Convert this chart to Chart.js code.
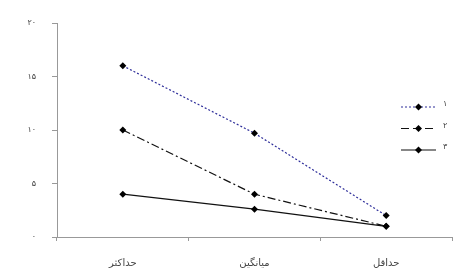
<!DOCTYPE html>
<html><head><meta charset="utf-8">
<script src="https://cdn.jsdelivr.net/npm/chart.js@4/dist/chart.umd.min.js"></script>
<style>html,body{margin:0;padding:0;background:#fff}#w{width:456px;height:276px}</style>
</head><body><div id="w"><canvas id="c"></canvas></div>
<script>
const categories = ['حداکثر', 'میانگین', 'حداقل'];
const seriesNames = ['۱', '۲', '۳'];
const series1 = [16, 9.7, 2.0];
const series2 = [10, 4.0, 1.0];
const series3 = [4.0, 2.6, 1.0];
const yTicks = [0, 5, 10, 15, 20];

const fa = n => String(n).replace(/\d/g, d => '۰۱۲۳۴۵۶۷۸۹'[d]);
const FONT = '"DejaVu Sans", sans-serif';

const styles = [
  {borderColor: '#2e2e9a', borderDash: [2, 2]},
  {borderColor: '#111', borderDash: [8, 3, 2, 3]},
  {borderColor: '#111', borderDash: []}
];
const values = [series1, series2, series3];

const legendPlugin = {
  id: 'customLegend',
  afterDraw(chart) {
    const ctx = chart.ctx, a = chart.chartArea;
    chart.data.datasets.forEach((ds, i) => {
      const y = 107 + i * 21.5;
      const x0 = a.right - 51, x1 = a.right - 16;
      ctx.save();
      ctx.strokeStyle = ds.borderColor;
      ctx.lineWidth = ds.borderWidth;
      ctx.setLineDash(i === 1 ? [8, 4] : ds.borderDash);
      ctx.beginPath(); ctx.moveTo(x0, y); ctx.lineTo(x1, y); ctx.stroke();
      ctx.setLineDash([]);
      const xm = (x0 + x1) / 2, r = 3.5;
      ctx.fillStyle = '#000';
      ctx.beginPath();
      ctx.moveTo(xm, y - r); ctx.lineTo(xm + r, y); ctx.lineTo(xm, y + r); ctx.lineTo(xm - r, y);
      ctx.closePath(); ctx.fill();
      ctx.font = '8px ' + FONT;
      ctx.fillStyle = '#444';
      ctx.textAlign = 'left'; ctx.textBaseline = 'bottom';
      ctx.fillText(ds.label, x1 + 7, y + 1);
      ctx.restore();
    });
  }
};

new Chart(document.getElementById('c'), {
  type: 'line',
  data: {
    labels: categories,
    datasets: values.map((v, i) => ({
      label: seriesNames[i],
      data: v,
      borderColor: styles[i].borderColor,
      borderDash: styles[i].borderDash,
      borderWidth: 1.2,
      pointStyle: 'rectRot',
      pointRadius: 3.5,
      pointBackgroundColor: '#000',
      pointBorderColor: '#000',
      pointBorderWidth: 0,
      tension: 0,
      fill: false
    }))
  },
  options: {
    responsive: true,
    maintainAspectRatio: false,
    animation: false,
    layout: {padding: {top: 23, right: 0, left: 0, bottom: 0}},
    plugins: {legend: {display: false}, tooltip: {enabled: false}},
    scales: {
      x: {
        offset: true,
        grid: {offset: true, drawOnChartArea: false, drawTicks: true, tickLength: 4, color: '#999'},
        border: {color: '#999', width: 1},
        ticks: {padding: 16, color: '#444', font: {family: FONT, size: 10}},
        afterFit: s => { s.height = 39; }
      },
      y: {
        min: 0, max: 20,
        afterBuildTicks: s => { s.ticks = yTicks.map(v => ({value: v})); },
        grid: {drawOnChartArea: false, drawTicks: true, tickLength: 5, color: '#999'},
        border: {color: '#999', width: 1},
        ticks: {padding: 16, color: '#444', font: {family: FONT, size: 8}, callback: v => fa(v)},
        afterFit: s => { s.width = 57; }
      }
    }
  },
  plugins: [legendPlugin]
});
</script>
</body></html>
